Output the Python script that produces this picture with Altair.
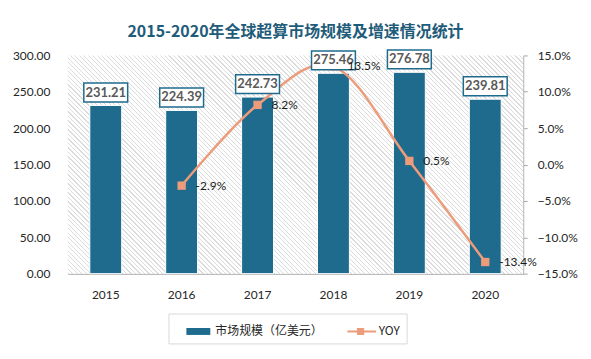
import altair as alt
import pandas as pd

years = ["2015", "2016", "2017", "2018", "2019", "2020"]
market = [231.21, 224.39, 242.73, 275.46, 276.78, 239.81]
yoy = [None, -0.029, 0.082, 0.135, 0.005, -0.134]
series_names = ["市场规模（亿美元）", "YOY"]

BAR = "#1e6b8e"
LINE = "#ec9c7b"
FONT = "Lato"
CJK = "Noto Sans CJK SC"
W, H = 457, 219

df = pd.DataFrame({"year": years, "market": market, "yoy": yoy})
df["market_label"] = [f"{v:.2f}" for v in market]
df["yoy_label"] = [("" if v is None else f"{v*100:.1f}%") for v in yoy]
dfy = df.dropna(subset=["yoy"])
legend_df = pd.DataFrame({"s": series_names})

# hatched plot background (style only): diagonal stripes as a linear gradient
periods = 150
stops = []
for i in range(periods):
    a = i / periods
    b = (i + 0.28) / periods
    c = (i + 1) / periods
    stops += [{"offset": a, "color": "#dcdcdc"}, {"offset": b, "color": "#dcdcdc"},
              {"offset": b, "color": "#ffffff"}, {"offset": c, "color": "#ffffff"}]
k = (1 + H / W) / (1 + (H / W) ** 2)
hatch = {"gradient": "linear", "x1": 0, "y1": 1, "x2": k, "y2": 1 - k * H / W, "stops": stops}

x = alt.X("year:N", sort=years, title=None,
          scale=alt.Scale(paddingInner=0.0, paddingOuter=0.0),
          axis=alt.Axis(labelAngle=0, domainColor="#a6a6a6", domainWidth=1.2,
                        ticks=False, labelPadding=16, labelFontSize=12,
                        labelColor="#262626", labelFont=FONT))

lscale = alt.Scale(domain=[0, 300], nice=False, zero=True)
rscale = alt.Scale(domain=[-0.15, 0.15], nice=False, zero=False)

bg = alt.Chart(pd.DataFrame({"a": [0]})).mark_rect(color=hatch).encode(
    x=alt.value(0), x2=alt.value(W), y=alt.value(0), y2=alt.value(H)
)

bars = alt.Chart(df).mark_bar(size=32, color=BAR, stroke="white", strokeWidth=1).encode(
    x=x,
    y=alt.Y("market:Q", scale=lscale, title=None,
            axis=alt.Axis(orient="left", values=[0, 50, 100, 150, 200, 250, 300],
                          format=".2f", domain=False, ticks=False, grid=False,
                          labelPadding=18, labelFontSize=12, labelColor="#262626",
                          labelFont=FONT)),
)

line = alt.Chart(dfy).mark_line(interpolate="cardinal", color=LINE, strokeWidth=2.5).encode(
    x=x,
    y=alt.Y("yoy:Q", scale=rscale, title=None,
            axis=alt.Axis(orient="right", values=[-0.15, -0.10, -0.05, 0, 0.05, 0.10, 0.15],
                          format=".1%", domain=True, domainColor="#a6a6a6", ticks=True,
                          tickColor="#a6a6a6", tickSize=4, grid=False, labelPadding=10,
                          labelFontSize=12, labelColor="#262626", labelFont=FONT)),
)

points = alt.Chart(dfy).mark_square(size=70, color=LINE, opacity=1, filled=True).encode(
    x=x, y=alt.Y("yoy:Q", scale=rscale, axis=None),
)

pct = alt.Chart(dfy).mark_text(align="left", baseline="middle", dx=14, fontSize=12,
                               font=FONT, color="#1a1a1a").encode(
    x=x, y=alt.Y("yoy:Q", scale=rscale, axis=None), text="yoy_label:N",
)

box_path = "M-1,-0.43L1,-0.43L1,0.43L-1,0.43Z"
boxes = alt.Chart(df).mark_point(shape=box_path, size=44 * 44, filled=True, fill="white",
                                 stroke=BAR, strokeWidth=1.5, opacity=1, yOffset=-13).encode(
    x=x, y=alt.Y("market:Q", scale=lscale, axis=None),
)

box_text = alt.Chart(df).mark_text(baseline="middle", dy=-13, fontSize=13, fontWeight="bold",
                                   font=FONT, color="#595959").encode(
    x=x, y=alt.Y("market:Q", scale=lscale, axis=None), text="market_label:N",
)

rect_sym = "M-1,-0.29L1,-0.29L1,0.29L-1,0.29Z"
line_sym = ("M-1.2,-0.09L1.2,-0.09L1.2,0.09L-1.2,0.09Z "
            "M-0.4,-0.3L0.2,-0.3L0.2,0.3L-0.4,0.3Z")
leg = alt.Legend(title=None, orient="none", legendX=101, legendY=259, direction="horizontal",
                 strokeColor="#d9d9d9", padding=6, symbolSize=576, symbolOpacity=1,
                 symbolStrokeWidth=0, labelFontSize=12, labelFont=CJK, labelColor="#262626",
                 columnPadding=14, symbolOffset=12, labelOffset=5, fillColor="white")
legend_layer = alt.Chart(legend_df).mark_point(opacity=0, filled=True).encode(
    color=alt.Color("s:N", scale=alt.Scale(domain=series_names, range=[BAR, LINE]), legend=leg),
    shape=alt.Shape("s:N", scale=alt.Scale(domain=series_names, range=[rect_sym, line_sym]), legend=leg),
)

chart = alt.layer(bg, bars, line, points, boxes, box_text, pct, legend_layer).resolve_scale(
    y="independent"
).properties(
    width=W, height=H,
    title=alt.Title("2015-2020年全球超算市场规模及增速情况统计", font=CJK, fontSize=16,
                    fontWeight="bold", color="#1f5c7a", anchor="middle", offset=7),
    padding={"left": 4, "top": 15, "right": 5, "bottom": 5},
    background="white",
).configure_view(stroke=None)

chart.save("out.html", embed_options={"renderer": "svg", "actions": False})
